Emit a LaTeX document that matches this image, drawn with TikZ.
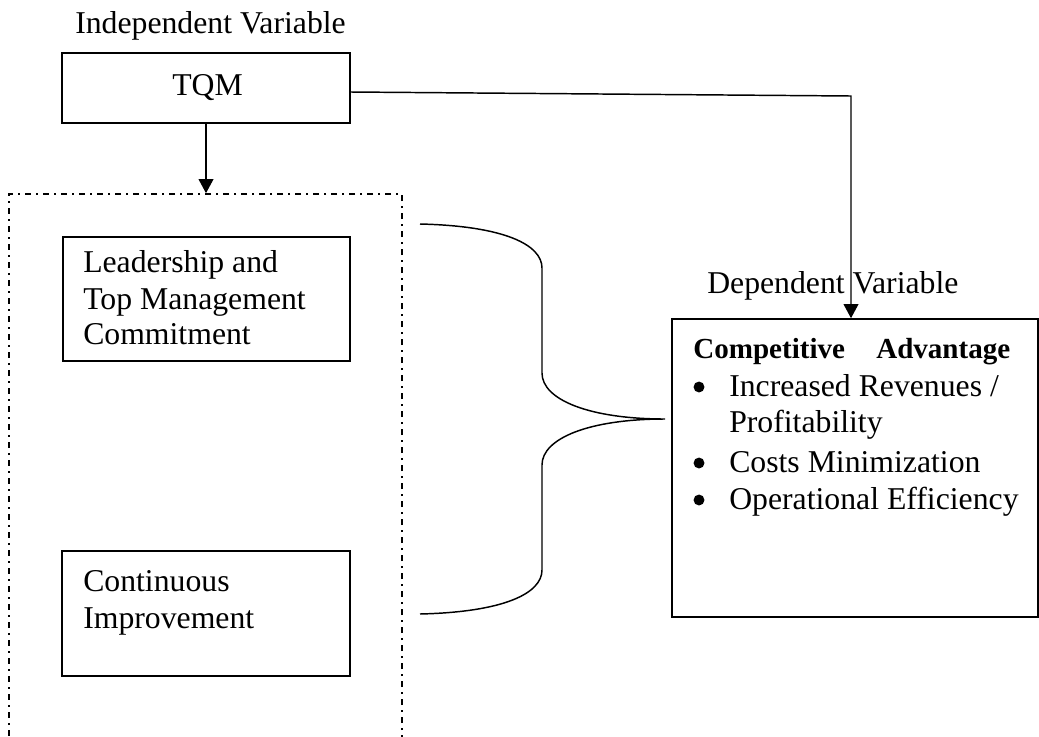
\documentclass[tikz,border=0pt]{standalone}
\usepackage{fontspec}
\setmainfont{Liberation Serif}
\usetikzlibrary{arrows.meta,fit}
\begin{document}
\begin{tikzpicture}[x=0.75pt,y=-0.75pt,
  box/.style={draw, line width=1.2pt, inner sep=0pt},
  dashbox/.style={draw, line width=1.2pt, inner sep=0pt, dash pattern=on 4.5pt off 3.75pt on 1.5pt off 3.75pt},
  txt/.style={anchor=base west, inner sep=0pt, font=\fontsize{23.8}{27.4}\selectfont},
  bold/.style={txt, font=\fontsize{21.8}{25}\selectfont\bfseries},
  bulletdot/.style={fill=black},
  conn/.style={line width=1.1pt},
  arr/.style={conn, -{Triangle[length=10.5pt,width=11pt]}}]
\useasboundingbox (0,0) rectangle (1039,736);
\clip (0,0) rectangle (1039,736);
% independent variable
\node[txt] (iv) at (75,33) {Independent Variable};
\node[box, fit={(62,53) (350,123)}] (tqm) {};
\node[txt] (tqmt) at (172,95) {TQM};
% group of dimensions
\node[dashbox, fit={(9,194) (402,780)}] (grp) {};
\node[box, fit={(63,237) (350,361)}] (lead) {};
\node[txt] (l1) at (83,272) {Leadership and};
\node[txt] (l2) at (83,309) {Top Management};
\node[txt] (l3) at (83,344) {Commitment};
\node[box, fit={(62,551) (350,676)}] (cont) {};
\node[txt] (c1) at (83,591) {Continuous};
\node[txt] (c2) at (83,628) {Improvement};
% dependent variable
\node[txt] (dv) at (707,293) {Dependent Variable};
\node[box, fit={(672,319) (1038,617)}] (comp) {};
\node[bold] (ca1) at (693,358) {Competitive};
\node[bold] (ca2) at (876,358) {Advantage};
\fill[bulletdot] (699,387) circle (4.1pt);
\node[txt] (i1) at (729,396) {Increased Revenues /};
\node[txt] (i1b) at (729,432) {Profitability};
\fill[bulletdot] (699,463) circle (4.1pt);
\node[txt] (i2) at (729,472) {Costs Minimization};
\fill[bulletdot] (699,500) circle (4.1pt);
\node[txt] (i3) at (729,509) {Operational Efficiency};
% connectors
\draw[arr] (tqm.south) -- (tqm.south |- grp.north);
\coordinate (bend) at (851,96);
\draw[arr] ([yshift=-3pt]tqm.east) -- (bend) -- (bend |- comp.north);
% brace
\coordinate (btop) at (420,224);
\coordinate (btip) at (665,419);
\coordinate (bbot) at (420,614);
\draw[conn] (btop) .. controls (505,226) and (542,245) .. (542,268) -- (542,373)
  .. controls (542,400) and (590,419) .. (btip)
  .. controls (590,419) and (542,438) .. (542,465) -- (542,570)
  .. controls (542,593) and (505,612) .. (bbot);
\end{tikzpicture}
\end{document}
